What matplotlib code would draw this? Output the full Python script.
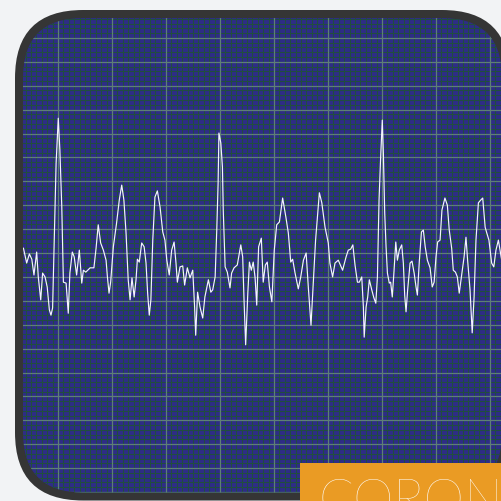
import numpy as np
import matplotlib
matplotlib.use("Agg")
import matplotlib.pyplot as plt
from matplotlib.patches import FancyBboxPatch, Rectangle

# ECG trace, time in ms and amplitude in mV
time_ms = [72, 84, 94, 103, 111, 121, 127, 136, 143, 152, 160, 168, 174, 180,
           186, 193, 201, 207, 214, 220, 230, 238, 244, 253, 260, 269, 279, 288,
           294, 303, 319, 333, 341, 349, 358, 368, 378, 383, 389, 395, 405, 417,
           427, 436, 444, 452, 460, 467, 474, 482, 489, 494, 501, 510, 519, 526,
           532, 538, 544, 551, 559, 568, 578, 588, 596, 603, 612, 621, 630, 637,
           642, 652, 662, 669, 679, 689, 699, 706, 710, 717, 726, 736, 744, 757,
           766, 773, 782, 788, 793, 796, 803, 809, 812, 819, 827, 837, 843, 852,
           864, 877, 884, 889, 895, 903, 909, 916, 923, 930, 936, 943, 953, 960,
           968, 975, 983, 992, 1001, 1010, 1020, 1032, 1044, 1053, 1062, 1069,
           1078, 1090, 1099, 1109, 1119, 1127, 1137, 1146, 1154, 1168, 1177,
           1189, 1201, 1207, 1217, 1226, 1238, 1254, 1267, 1275, 1284, 1292,
           1300, 1309, 1316, 1325, 1331, 1334, 1341, 1347, 1353, 1362, 1370,
           1377, 1383, 1389, 1395, 1401, 1405, 1410, 1415, 1420, 1427, 1432,
           1438, 1444, 1451, 1457, 1464, 1473, 1479, 1484, 1489, 1495, 1504,
           1511, 1519, 1526, 1531, 1538, 1546, 1553, 1560, 1568, 1578, 1586,
           1593, 1600, 1606, 1615, 1622, 1633, 1642, 1649, 1658, 1664, 1672,
           1679, 1686, 1695, 1704, 1711, 1717, 1726, 1734, 1741, 1748, 1757,
           1766, 1773, 1782, 1788, 1796, 1806, 1814, 1822, 1831, 1840, 1848]
voltage_mv = [0.10, -0.21, -0.02, -0.13, -0.46, 0.02, -0.50, -0.98, -0.42, -0.50,
              -0.71, -1.19, -1.30, -1.15, 0.27, 1.88, 2.82, 2.15, 0.96, -0.61,
              -0.63, -1.26, -0.42, 0.02, -0.08, -0.46, 0.06, -0.63, -0.36, -0.40,
              -0.31, -0.31, 0.10, 0.59, 0.21, 0.06, -0.15, -0.50, -0.84, -0.61,
              0.13, 0.63, 1.11, 1.42, 1.11, 0.42, -0.56, -0.98, -0.52, -0.92,
              -0.56, -0.13, -0.19, 0.21, 0.13, -0.21, -0.84, -1.30, -0.98, 0.27,
              1.17, 1.30, 0.96, 0.44, 0.27, -0.15, -0.46, 0.06, 0.23, -0.21,
              -0.61, -0.29, -0.27, -0.67, -0.31, -0.52, -0.36, -1.13, -1.72,
              -0.82, -1.13, -1.36, -0.92, -0.56, -0.82, -0.77, -0.50, 0.48, 1.46,
              2.51, 2.30, 1.80, 0.90, -0.29, -0.40, -0.73, -0.42, -0.31, -0.25,
              0.17, -0.08, -0.98, -1.92, -0.84, -0.19, -0.36, -0.19, -0.52,
              -1.09, 0.13, 0.31, -0.61, -0.25, -0.19, -0.71, -1.02, 0.06, 0.59,
              0.65, 1.15, 0.75, 0.42, -0.19, -0.13, -0.42, -0.75, -0.50, -0.15,
              0.00, -0.71, -1.51, -0.56, 0.27, 1.26, 1.05, 0.54, 0.21, -0.21,
              -0.50, -0.21, -0.15, -0.36, -0.08, 0.06, 0.08, 0.17, -0.25, -0.61,
              -0.61, -0.50, -1.13, -1.76, -1.13, -0.92, -0.56, -0.77, -0.94,
              -1.05, -0.50, 1.11, 2.01, 2.78, 2.09, 0.84, 0.13, -0.42, -0.63,
              -0.61, -0.92, -0.42, 0.23, -0.15, 0.06, 0.17, -0.21, -0.88, -1.23,
              -0.77, -0.21, -0.17, -0.42, -0.71, -0.88, -0.19, 0.44, 0.48, 0.13,
              -0.15, -0.31, -0.71, -0.61, -0.08, 0.23, 0.27, 0.90, 1.15, 1.00,
              0.48, 0.10, -0.36, -0.40, -0.50, -0.84, -0.46, -0.08, 0.33, -0.15,
              -0.77, -1.67, -0.92, 0.27, 1.05, 1.11, 1.15, 0.54, 0.42, 0.27,
              -0.21, -0.29, 0.06, 0.27, -0.04, -0.31]
label_text = "CORON"

page_bg = "#f2f3f5"
screen_bg = "#2e2d86"
frame_col = "#353535"

fig = plt.figure(figsize=(5.02, 5.01), dpi=100)
fig.patch.set_facecolor(page_bg)
ax = fig.add_axes([0, 0, 1, 1])
ax.set_facecolor("none")
ax.set_xlim(-14.8, 1844.4)
ax.set_ylim(-5.188, 5.293)
for s in ax.spines.values():
    s.set_visible(False)
ax.set_xticks([])
ax.set_yticks([])

# bezel drawn as a filled outer box, screen as a filled inner box (inches);
# stroking a rounded path that runs off the canvas distorts it in Agg
bezel = FancyBboxPatch((0.15, 0.005), 4.95, 4.905,
                       boxstyle="round,pad=0,rounding_size=0.68",
                       transform=fig.dpi_scale_trans,
                       facecolor=frame_col, edgecolor="none", zorder=0)
ax.add_patch(bezel)
screen = FancyBboxPatch((0.23, 0.085), 4.79, 4.745,
                        boxstyle="round,pad=0,rounding_size=0.60",
                        transform=fig.dpi_scale_trans,
                        facecolor=screen_bg, edgecolor="none", zorder=0.5)
ax.add_patch(screen)

# ECG paper grid
x0, x1 = ax.get_xlim()
y0, y1 = ax.get_ylim()
minor_x = np.arange(0, 1900, 20)
minor_y = np.arange(-5.0, 5.3, 0.1)
major_x = np.arange(0, 1900, 200)
major_y = np.arange(-5.0, 5.3, 0.5)
grid = [
    ax.vlines(minor_x, y0, y1, colors="#214d40", linewidth=0.75, zorder=1),
    ax.hlines(minor_y, x0, x1, colors="#214d40", linewidth=0.75, zorder=1),
    ax.vlines(major_x, y0, y1, colors="#5e7f76", linewidth=0.9, zorder=2),
    ax.hlines(major_y, x0, x1, colors="#5e7f76", linewidth=0.9, zorder=2),
]
for g in grid:
    g.set_clip_path(screen)

trace, = ax.plot(time_ms, voltage_mv, color="#f4f4ff", linewidth=0.85, zorder=3)
trace.set_clip_path(screen)

# orange label strip
strip = Rectangle((3.00, 0.0), 2.1, 0.38, transform=fig.dpi_scale_trans,
                  facecolor="#ea9b24", edgecolor="none", zorder=5)
ax.add_patch(strip)
fig.text(3.19 / 5.02, -0.15 / 5.01, label_text, color="white", fontsize=37,
         family="Lato", fontweight="light", ha="left", va="baseline", zorder=6)

fig.savefig("out.png", dpi=100, facecolor=page_bg)
